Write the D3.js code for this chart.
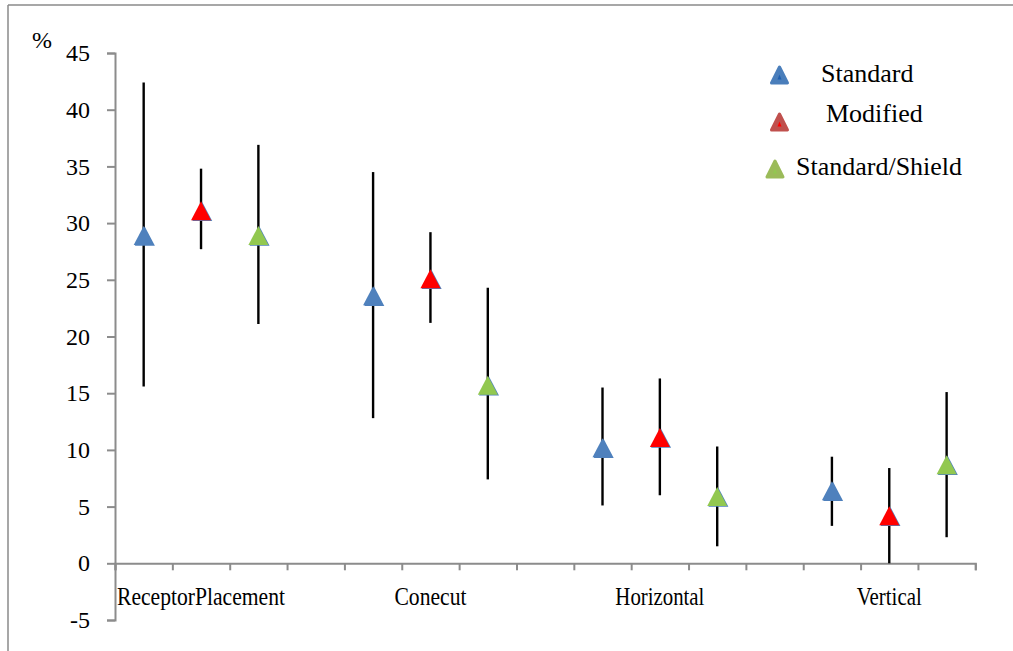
<!DOCTYPE html>
<html>
<head>
<meta charset="utf-8">
<script src="https://cdn.jsdelivr.net/npm/d3@7"></script>
</head>
<body style="margin:0;padding:0;background:#fff">
<svg id="chart" width="1013" height="651"></svg>
<script>
// ---- data ----
const categories = ["ReceptorPlacement", "Conecut", "Horizontal", "Vertical"];
const seriesNames = ["Standard", "Modified", "Standard/Shield"];
const standardMean = [28.9, 23.6, 10.2, 6.4];
const standardLow  = [15.6, 12.8, 5.1, 3.3];
const standardHigh = [42.4, 34.5, 15.5, 9.4];
const modifiedMean = [31.1, 25.1, 11.1, 4.2];
const modifiedLow  = [27.7, 21.2, 6.0, 0.0];
const modifiedHigh = [34.8, 29.2, 16.3, 8.4];
const shieldMean   = [28.9, 15.7, 5.9, 8.7];
const shieldLow    = [21.1, 7.4, 1.5, 2.3];
const shieldHigh   = [36.9, 24.3, 10.3, 15.1];
const yTicks = [-5, 0, 5, 10, 15, 20, 25, 30, 35, 40, 45];

// ---- layout ----
const svg = d3.select("#chart").style("display", "block");
const x = d3.scaleLinear().domain([0, 15]).range([115, 975.3]);
const y = d3.scaleLinear().domain([-5, 45]).range([620, 53]);
const fills = ["#4F81BD", "#FF0000", "#92C850"];
const axisColor = "#8C8C8C";

function serif(sel, size) {
  return sel.style("font-family", '"Liberation Serif"', "important")
    .style("font-size", size + "px", "important")
    .style("fill", "#000", "important");
}

// outer frame (partial, as in the reference)
svg.append("line").attr("x1", 8).attr("y1", 5).attr("x2", 1013).attr("y2", 5)
  .attr("stroke", "#8A8A8A").attr("stroke-width", 1.5);
svg.append("line").attr("x1", 8).attr("y1", 5).attr("x2", 8).attr("y2", 651)
  .attr("stroke", "#8A8A8A").attr("stroke-width", 1.5);

// y axis
const yAxis = d3.axisLeft(y).tickValues(yTicks).tickSize(8).tickPadding(17).tickFormat(d => String(d));
const gy = svg.append("g").attr("transform", `translate(${x(0)},0)`).call(yAxis);
gy.attr("font-family", null).attr("font-size", null);
gy.select(".domain").attr("stroke", axisColor).attr("stroke-width", 2);
gy.selectAll(".tick line").attr("stroke", axisColor).attr("stroke-width", 2);
serif(gy.selectAll(".tick text"), 24);

// x axis at y = 0
const xAxis = d3.axisBottom(x).tickValues(d3.range(0, 16)).tickSize(7).tickFormat("");
const gx = svg.append("g").attr("transform", `translate(0,${y(0)})`).call(xAxis);
gx.attr("font-family", null);
gx.select(".domain").attr("stroke", axisColor).attr("stroke-width", 2);
gx.selectAll(".tick line").attr("stroke", axisColor).attr("stroke-width", 2);

// category labels
const labelWidths = [168, 72, 89, 65];
serif(svg.selectAll("text.cat").data(categories).join("text").attr("class", "cat"), 26)
  .attr("x", (d, i) => x(4 * i + 1.5))
  .attr("y", 605)
  .attr("text-anchor", "middle")
  .attr("textLength", (d, i) => labelWidths[i])
  .attr("lengthAdjust", "spacingAndGlyphs")
  .text(d => d);

// % label
serif(svg.append("text"), 24).attr("x", 32).attr("y", 48).text("%");

// data
const series = [
  { mean: standardMean, low: standardLow, high: standardHigh },
  { mean: modifiedMean, low: modifiedLow, high: modifiedHigh },
  { mean: shieldMean, low: shieldLow, high: shieldHigh }
];
const points = [];
series.forEach((s, j) => {
  categories.forEach((c, i) => {
    points.push({ s: j, pos: 4 * i + j + 0.5, mean: s.mean[i], low: s.low[i], high: s.high[i] });
  });
});

// error bars
svg.append("g").selectAll("line").data(points).join("line")
  .attr("x1", d => x(d.pos)).attr("x2", d => x(d.pos))
  .attr("y1", d => y(d.high)).attr("y2", d => y(d.low))
  .attr("stroke", "#000").attr("stroke-width", 2.4);

// triangle markers
function tri(cx, cy, w, h) {
  return `M${cx},${cy - h / 2}L${cx + w / 2},${cy + h / 2}L${cx - w / 2},${cy + h / 2}Z`;
}
const mk = svg.append("g");
mk.selectAll("path.shadow").data(points).join("path").attr("class", "shadow")
  .attr("d", d => tri(x(d.pos) + 1.2, y(d.mean) + 0.8, 20, 19))
  .attr("fill", "#4F81BD");
mk.selectAll("path.fillm").data(points).join("path").attr("class", "fillm")
  .attr("d", d => tri(x(d.pos), y(d.mean), 20, 19))
  .attr("fill", d => fills[d.s]);

// legend
const legY = [75, 122, 169];
const legX = [779.5, 779.5, 775];
const legTextX = [821, 826, 796];
const legTextY = [82, 122, 175];
const legEdge = ["#4A7EBB", "#C0504D", "#9BBB59"];
const legInner = ["#1F5FAF", "#FF0000", "#92C850"];
seriesNames.forEach((name, j) => {
  svg.append("path").attr("d", tri(legX[j], legY[j], 16, 16))
    .attr("fill", legEdge[j]).attr("stroke", legEdge[j]).attr("stroke-width", 3).attr("stroke-linejoin", "round");
  svg.append("path").attr("d", tri(legX[j], legY[j] + 2, 4, 5)).attr("fill", legInner[j]);
  serif(svg.append("text"), 26).attr("x", legTextX[j]).attr("y", legTextY[j]).text(name);
});
</script>
</body>
</html>
